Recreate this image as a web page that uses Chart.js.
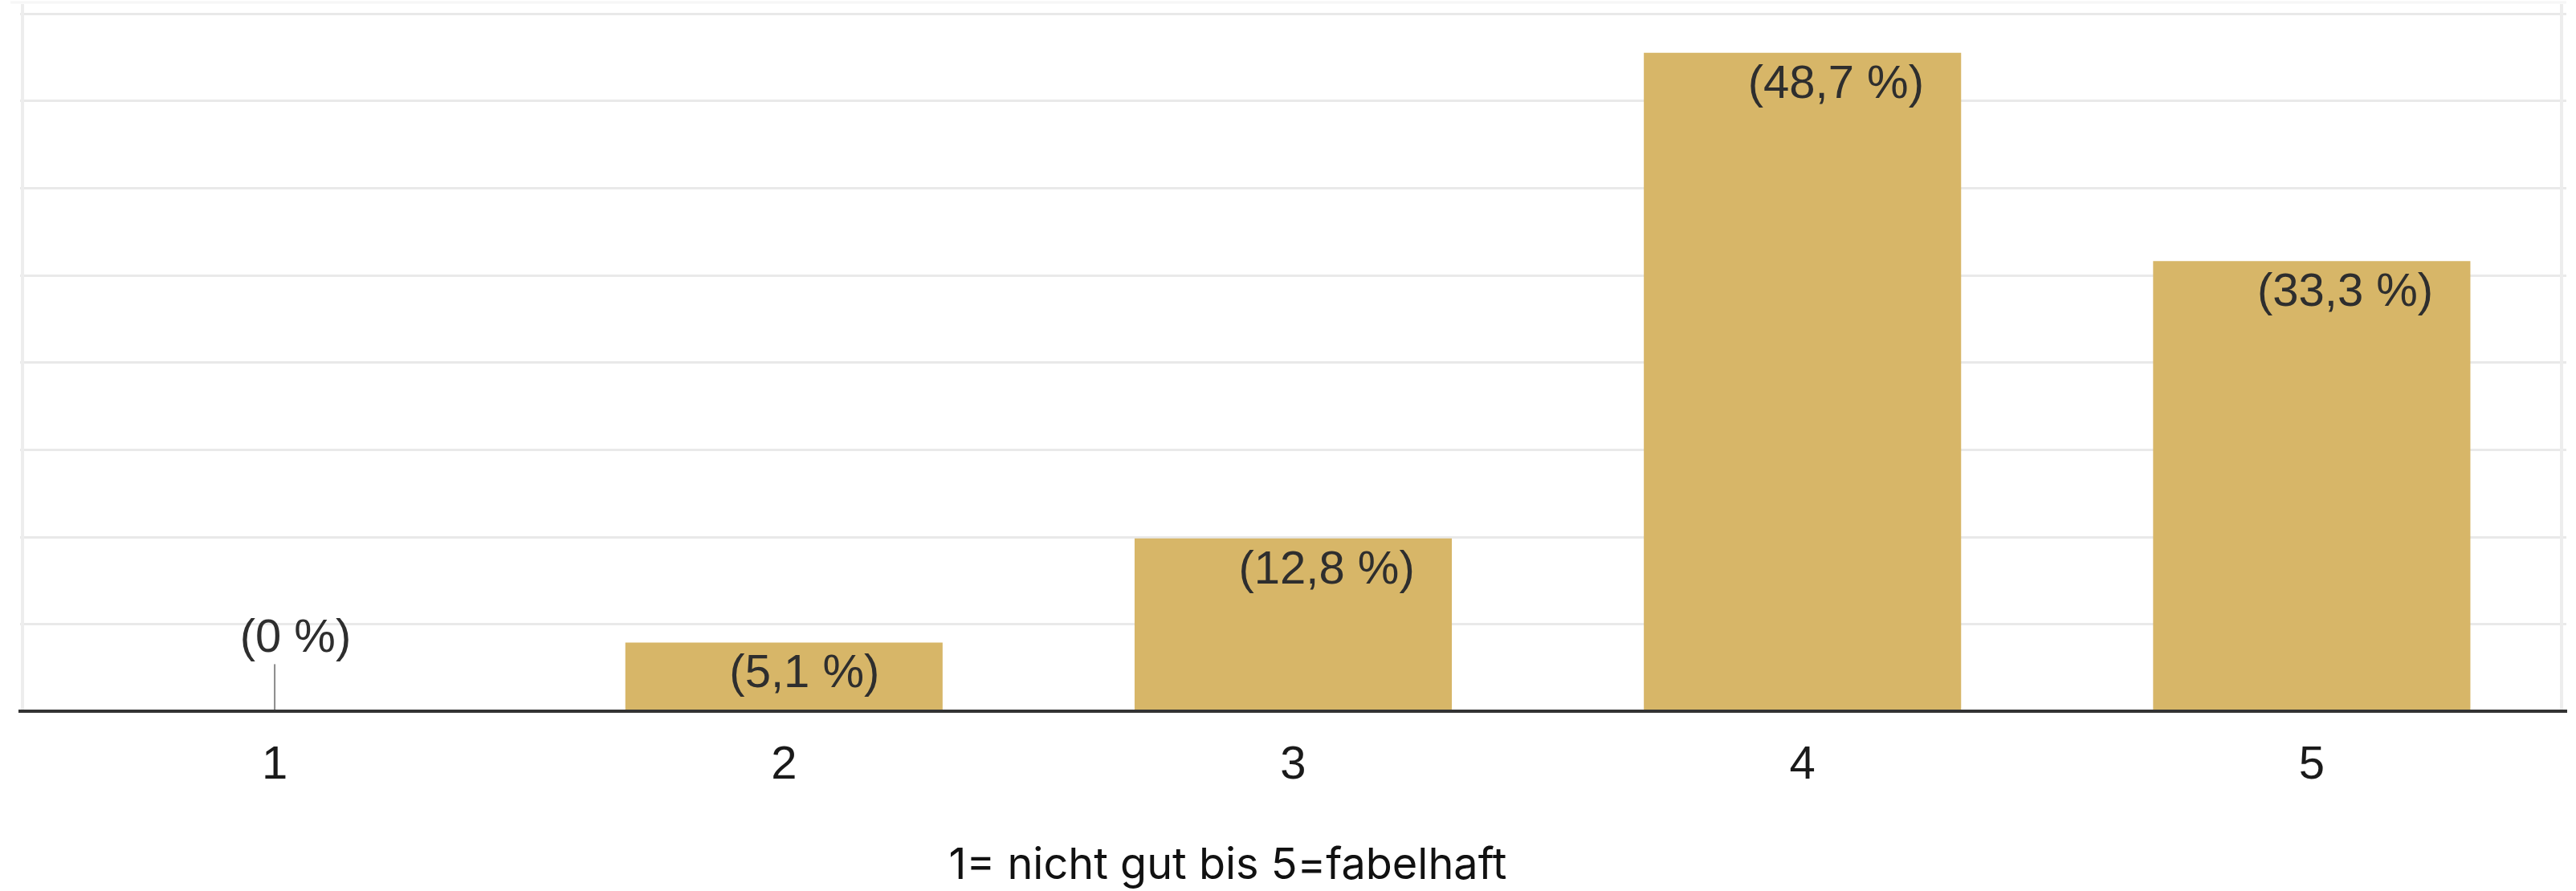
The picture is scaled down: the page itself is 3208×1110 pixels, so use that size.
<!DOCTYPE html>
<html lang="de">
<head>
<meta charset="utf-8">
<title>Bewertung</title>
<script src="https://cdn.jsdelivr.net/npm/chart.js@4.4.1/dist/chart.umd.min.js"></script>
<style>
  html, body { margin: 0; padding: 0; background: #ffffff; }
  #wrap { position: relative; width: 3208px; height: 1110px; }
</style>
</head>
<body>
<div id="wrap"><canvas id="chart"></canvas></div>
<script>
// Rating scale and the share of answers for each step (percent)
const categories = ['1', '2', '3', '4', '5'];
const shares = [0, 5.1, 12.8, 48.7, 33.3];
// Value axis: top of the plot and number of grid bands
const yMax = 51.6;
const gridSteps = 8;
const caption = '1= nicht gut bis 5=fabelhaft';

const BAR_COLOR = '#d7b668';
const LABEL_FONT = '"Liberation Sans", Arial, sans-serif';

function formatShare(v) {
  const s = Number.isInteger(v) ? String(v) : v.toFixed(1).replace('.', ',');
  return '(' + s + ' %)';
}

// Light frame on the left and right side of the plot area
const framePlugin = {
  id: 'frame',
  beforeDatasetsDraw(chart) {
    const { ctx, chartArea: a } = chart;
    ctx.save();
    ctx.strokeStyle = '#ededed';
    ctx.lineWidth = 4;
    ctx.beginPath();
    ctx.moveTo(a.left + 3, a.top - 12);
    ctx.lineTo(a.left + 3, a.bottom);
    ctx.moveTo(a.right - 6, a.top - 12);
    ctx.lineTo(a.right - 6, a.bottom);
    ctx.stroke();
    ctx.strokeStyle = '#f6f6f6';
    ctx.lineWidth = 3;
    ctx.beginPath();
    ctx.moveTo(a.left - 12, a.top - 14);
    ctx.lineTo(a.right, a.top - 14);
    ctx.stroke();
    ctx.restore();
  }
};

// Percentage annotations inside the bars (and above the baseline for empty bars)
const shareLabels = {
  id: 'shareLabels',
  afterDatasetsDraw(chart) {
    const { ctx } = chart;
    const meta = chart.getDatasetMeta(0);
    const data = chart.data.datasets[0].data;
    ctx.save();
    ctx.font = '58px ' + LABEL_FONT;
    ctx.fillStyle = '#2e2e2e';
    ctx.textBaseline = 'middle';
    ctx.textAlign = 'left';
    meta.data.forEach((bar, i) => {
      const v = data[i];
      const text = formatShare(v);
      const w = bar.width;
      if (v === 0) {
        // short stem marking the empty bar
        ctx.save();
        ctx.strokeStyle = '#8a8a8a';
        ctx.lineWidth = 2;
        ctx.beginPath();
        ctx.moveTo(bar.x, bar.base);
        ctx.lineTo(bar.x, bar.base - 59);
        ctx.stroke();
        ctx.restore();
        ctx.fillText(text, bar.x - w * 0.11, bar.base - 90);
      } else {
        ctx.fillText(text, bar.x - w * 0.172, bar.y + 40);
      }
    });
    ctx.restore();
  }
};

// Caption under the category labels
const captionPlugin = {
  id: 'caption',
  afterDraw(chart) {
    const { ctx, chartArea: a } = chart;
    ctx.save();
    ctx.font = '54px Inter, "DejaVu Sans", sans-serif';
    ctx.fillStyle = '#111111';
    ctx.textAlign = 'center';
    ctx.textBaseline = 'alphabetic';
    ctx.fillText(caption, a.left + a.width * 0.4743, chart.height - 15);
    ctx.restore();
  }
};

new Chart(document.getElementById('chart'), {
  type: 'bar',
  data: {
    labels: categories,
    datasets: [{
      data: shares,
      backgroundColor: BAR_COLOR,
      borderWidth: 0,
      barPercentage: 0.623,
      categoryPercentage: 1.0
    }]
  },
  options: {
    responsive: true,
    maintainAspectRatio: false,
    animation: false,
    layout: { padding: { left: 25, right: 12, top: 17, bottom: 88 } },
    plugins: {
      legend: { display: false },
      tooltip: { enabled: false }
    },
    scales: {
      x: {
        grid: { display: false, drawTicks: false },
        border: { display: true, color: '#333333', width: 4, z: 1 },
        ticks: {
          color: '#1a1a1a',
          padding: 33,
          font: { family: LABEL_FONT, size: 58 }
        }
      },
      y: {
        min: 0,
        max: yMax,
        afterBuildTicks(scale) {
          scale.ticks = Array.from({ length: gridSteps + 1 }, (_, i) => ({ value: i * yMax / gridSteps }));
        },
        grid: { color: '#e9e9e9', lineWidth: 3, drawTicks: false },
        border: { display: false },
        ticks: { display: false }
      }
    }
  },
  plugins: [framePlugin, shareLabels, captionPlugin]
});
</script>
</body>
</html>
